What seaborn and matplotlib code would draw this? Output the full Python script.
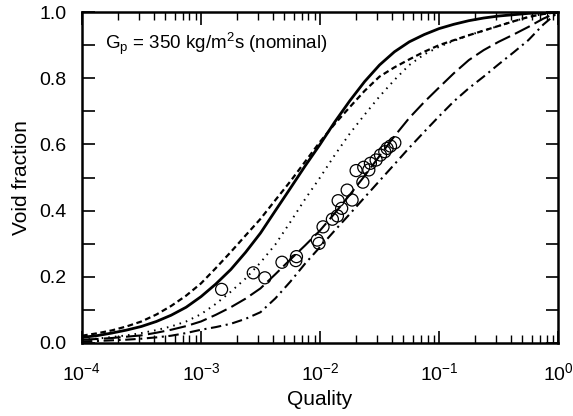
import numpy as np
import pandas as pd
import matplotlib
matplotlib.use("Agg")
import matplotlib.pyplot as plt
import seaborn as sns
from matplotlib.ticker import LogLocator, MultipleLocator, NullFormatter

# ---- data (quality on a 1/8-decade grid) ----
quality = [1.00e-4, 1.33e-4, 1.78e-4, 2.37e-4, 3.16e-4, 4.22e-4, 5.62e-4, 7.50e-4,
           1.00e-3, 1.33e-3, 1.78e-3, 2.37e-3, 3.16e-3, 4.22e-3, 5.62e-3, 7.50e-3,
           1.00e-2, 1.33e-2, 1.78e-2, 2.37e-2, 3.16e-2, 4.22e-2, 5.62e-2, 7.50e-2,
           1.00e-1, 1.33e-1, 1.78e-1, 2.37e-1, 3.16e-1, 4.22e-1, 5.62e-1, 7.50e-1, 1.0]
solid = [0.017, 0.022, 0.030, 0.039, 0.050, 0.065, 0.084, 0.108,
         0.140, 0.178, 0.222, 0.274, 0.332, 0.400, 0.467, 0.535,
         0.600, 0.668, 0.732, 0.790, 0.840, 0.880, 0.910, 0.932,
         0.950, 0.963, 0.974, 0.982, 0.988, 0.992, 0.996, 0.998, 1.0]
short_dash = [0.022, 0.029, 0.038, 0.050, 0.065, 0.086, 0.112, 0.143,
              0.180, 0.226, 0.275, 0.325, 0.375, 0.432, 0.488, 0.548,
              0.608, 0.662, 0.713, 0.762, 0.805, 0.833, 0.857, 0.880,
              0.900, 0.915, 0.930, 0.944, 0.958, 0.972, 0.985, 0.994, 1.0]
dotted = [0.010, 0.013, 0.018, 0.023, 0.030, 0.039, 0.050, 0.065,
          0.087, 0.118, 0.155, 0.195, 0.243, 0.298, 0.365, 0.435,
          0.500, 0.568, 0.633, 0.690, 0.745, 0.795, 0.840, 0.872,
          0.895, 0.913, 0.930, 0.944, 0.958, 0.972, 0.985, 0.994, 1.0]
long_dash = [0.010, 0.012, 0.015, 0.019, 0.023, 0.031, 0.040, 0.051,
             0.065, 0.085, 0.108, 0.134, 0.165, 0.208, 0.252, 0.295,
             0.340, 0.392, 0.448, 0.505, 0.565, 0.625, 0.680, 0.728,
             0.772, 0.815, 0.855, 0.885, 0.910, 0.932, 0.955, 0.980, 1.0]
dash_dot = [0.005, 0.006, 0.008, 0.010, 0.013, 0.017, 0.022, 0.030,
            0.040, 0.048, 0.058, 0.073, 0.093, 0.135, 0.185, 0.240,
            0.290, 0.340, 0.390, 0.440, 0.490, 0.540, 0.590, 0.638,
            0.685, 0.730, 0.770, 0.805, 0.842, 0.878, 0.915, 0.962, 1.0]

exp_quality = [1.49e-3, 2.75e-3, 3.44e-3, 4.79e-3, 6.34e-3, 6.26e-3, 9.48e-3, 9.81e-3,
               1.06e-2, 1.27e-2, 1.40e-2, 1.42e-2, 1.52e-2, 1.86e-2, 1.69e-2, 2.29e-2,
               2.01e-2, 2.57e-2, 2.33e-2, 2.65e-2, 2.96e-2, 3.22e-2, 3.50e-2, 3.66e-2,
               3.91e-2, 4.25e-2]
exp_void = [0.162, 0.212, 0.197, 0.244, 0.261, 0.249, 0.311, 0.301,
            0.351, 0.374, 0.384, 0.430, 0.407, 0.432, 0.462, 0.486,
            0.521, 0.523, 0.531, 0.543, 0.553, 0.568, 0.578, 0.588,
            0.595, 0.605]

model_names = ["solid", "short dash", "dotted", "long dash", "dash dot"]
model_values = [solid, short_dash, dotted, long_dash, dash_dot]

x_ticks = [1e-4, 1e-3, 1e-2, 1e-1, 1e0]
x_ticklabels = [r"$10^{-4}$", r"$10^{-3}$", r"$10^{-2}$", r"$10^{-1}$", r"$10^{0}$"]
y_ticks = [0.0, 0.2, 0.4, 0.6, 0.8, 1.0]
y_ticklabels = ["0.0", "0.2", "0.4", "0.6", "0.8", "1.0"]

# ---- build table ----
rows = []
for name, vals in zip(model_names, model_values):
    for q, v in zip(quality, vals):
        rows.append({"Quality": q, "Void fraction": v, "model": name})
df = pd.DataFrame(rows)
exp_df = pd.DataFrame({"Quality": exp_quality, "Void fraction": exp_void})

sns.set_theme(style="ticks")
plt.rcParams["font.family"] = ["Liberation Sans", "DejaVu Sans"]
plt.rcParams["mathtext.fontset"] = "custom"
plt.rcParams["mathtext.rm"] = "Liberation Sans"
plt.rcParams["mathtext.it"] = "Liberation Sans:italic"
plt.rcParams["mathtext.bf"] = "Liberation Sans:bold"

fig = plt.figure(figsize=(5.73, 4.16), dpi=100)
ax = fig.add_axes([0.143, 0.1755, 0.831, 0.7955])

dashes = {
    "solid": "",
    "short dash": (2.6, 1.6),
    "dotted": (0.8, 2.6),
    "long dash": (8.0, 2.6),
    "dash dot": (5.0, 2.2, 1.0, 2.2),
}
widths = {"solid": 2.0, "short dash": 1.6, "dotted": 1.4, "long dash": 1.5, "dash dot": 1.5}

for name in model_names:
    sub = df[df["model"] == name]
    sns.lineplot(data=sub, x="Quality", y="Void fraction", ax=ax, color="black",
                 linewidth=widths[name], estimator=None, sort=False, legend=False)
    line = ax.lines[-1]
    line.set_solid_joinstyle("round")
    if dashes[name]:
        line.set_dashes(dashes[name])

sns.scatterplot(data=exp_df, x="Quality", y="Void fraction", ax=ax, marker="o",
                s=75, facecolor="none", edgecolor="black", linewidth=0.9, zorder=5, legend=False)

ax.set_xscale("log")
ax.set_xlim(1e-4, 1.0)
ax.set_ylim(0.0, 1.0)
ax.set_xticks(x_ticks)
ax.set_xticklabels(x_ticklabels)
ax.xaxis.set_minor_locator(LogLocator(base=10, subs=np.arange(2, 10) * 1.0, numticks=20))
ax.xaxis.set_minor_formatter(NullFormatter())
ax.set_yticks(y_ticks)
ax.set_yticklabels(y_ticklabels)
ax.yaxis.set_minor_locator(MultipleLocator(0.1))

ax.tick_params(which="both", direction="in", top=True, right=True, labelsize=14,
               color="black", labelcolor="black", width=1.2)
ax.tick_params(which="major", length=9)
ax.tick_params(axis="x", which="major", pad=14)
ax.tick_params(axis="y", which="major", pad=11)
ax.tick_params(axis="x", which="minor", length=5.5, width=1.0)
ax.tick_params(axis="y", which="minor", length=9, width=1.2)

for s in ax.spines.values():
    s.set_visible(True)
    s.set_linewidth(1.8)
    s.set_color("black")

ax.set_xlabel("Quality", fontsize=15, color="black", labelpad=4)
ax.set_ylabel("Void fraction", fontsize=15, color="black", labelpad=6)

ax.text(0.048, 0.905, r"G$_\mathrm{p}$ = 350 kg/m$^2$s (nominal)", transform=ax.transAxes,
        fontsize=13.5, color="black", ha="left", va="center")

fig.savefig("out.png", dpi=100)
